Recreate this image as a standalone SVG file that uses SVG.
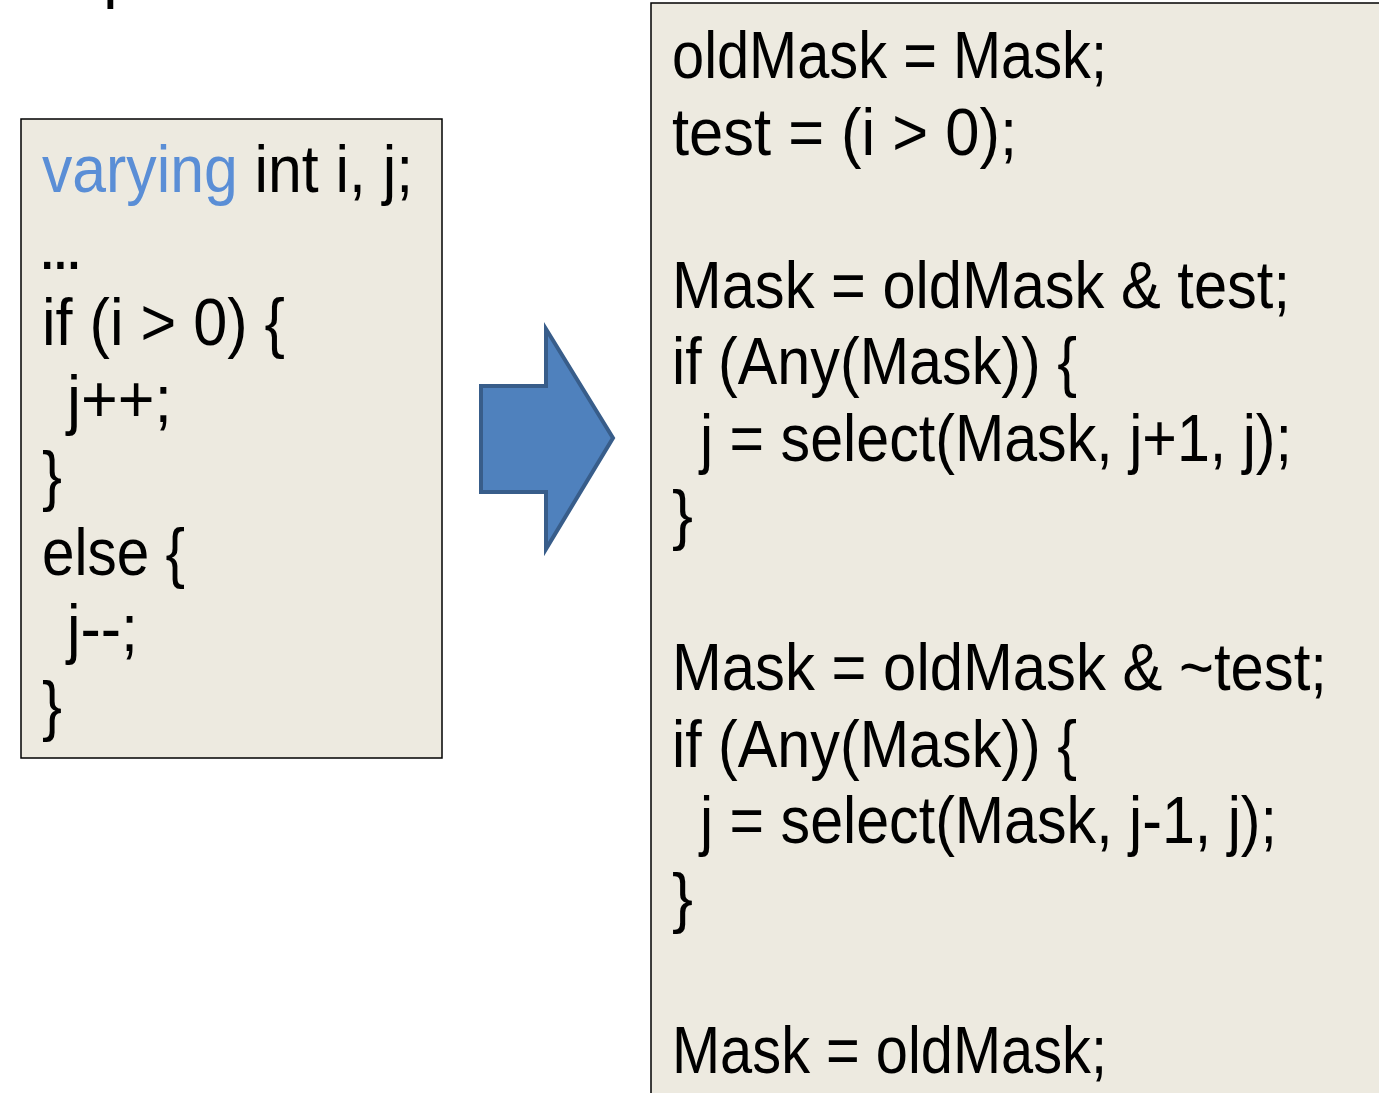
<svg xmlns="http://www.w3.org/2000/svg" width="1379" height="1093" viewBox="0 0 1379 1093">
<style>
.box{fill:#EDEAE0;stroke:#000;stroke-width:1.5}
.code{font-family:"Liberation Sans","Noto Sans",sans-serif;font-size:66px;fill:#000}
.kw{fill:#5A8ED6}
</style>
<rect width="1379" height="1093" fill="#fff"/>
<text class="code" x="103" y="-5">p</text>
<g id="source">
<rect class="box" x="21" y="119" width="421" height="639"/>
<text class="code" x="42" y="192" textLength="371" lengthAdjust="spacingAndGlyphs"><tspan class="kw">varying</tspan> int i, j;</text>
<text class="code" x="38" y="268.5" letter-spacing="-5" font-size="70">...</text>
<text class="code" x="42" y="345" textLength="243" lengthAdjust="spacingAndGlyphs">if (i &gt; 0) {</text>
<text class="code" x="67" y="421.5" textLength="105" lengthAdjust="spacingAndGlyphs">j++;</text>
<text class="code" x="42" y="498" textLength="20" lengthAdjust="spacingAndGlyphs">}</text>
<text class="code" x="42" y="574.5" textLength="143" lengthAdjust="spacingAndGlyphs">else {</text>
<text class="code" x="67" y="651" textLength="71" lengthAdjust="spacingAndGlyphs">j--;</text>
<text class="code" x="42" y="727.5" textLength="20" lengthAdjust="spacingAndGlyphs">}</text>
</g>
<g id="arrow">
<polygon points="481,386 546,386 546,329 613,438 546,549 546,492 481,492" fill="#4F81BD" stroke="#385D8A" stroke-width="4" stroke-linejoin="miter"/>
</g>
<g id="result">
<rect class="box" x="651" y="3" width="740" height="1100"/>
<text class="code" x="672" y="78" textLength="435" lengthAdjust="spacingAndGlyphs">oldMask = Mask;</text>
<text class="code" x="672" y="154.5" textLength="345" lengthAdjust="spacingAndGlyphs">test = (i &gt; 0);</text>
<text class="code" x="672" y="307.5" textLength="618" lengthAdjust="spacingAndGlyphs">Mask = oldMask &amp; test;</text>
<text class="code" x="672" y="384" textLength="405" lengthAdjust="spacingAndGlyphs">if (Any(Mask)) {</text>
<text class="code" x="700" y="460.5" textLength="592" lengthAdjust="spacingAndGlyphs">j = select(Mask, j+1, j);</text>
<text class="code" x="672" y="537" textLength="21" lengthAdjust="spacingAndGlyphs">}</text>
<text class="code" x="672" y="690" textLength="655" lengthAdjust="spacingAndGlyphs">Mask = oldMask &amp; ~test;</text>
<text class="code" x="672" y="766.5" textLength="405" lengthAdjust="spacingAndGlyphs">if (Any(Mask)) {</text>
<text class="code" x="700" y="843" textLength="577" lengthAdjust="spacingAndGlyphs">j = select(Mask, j-1, j);</text>
<text class="code" x="672" y="919.5" textLength="21" lengthAdjust="spacingAndGlyphs">}</text>
<text class="code" x="672" y="1072.5" textLength="435" lengthAdjust="spacingAndGlyphs">Mask = oldMask;</text>
</g>
</svg>
